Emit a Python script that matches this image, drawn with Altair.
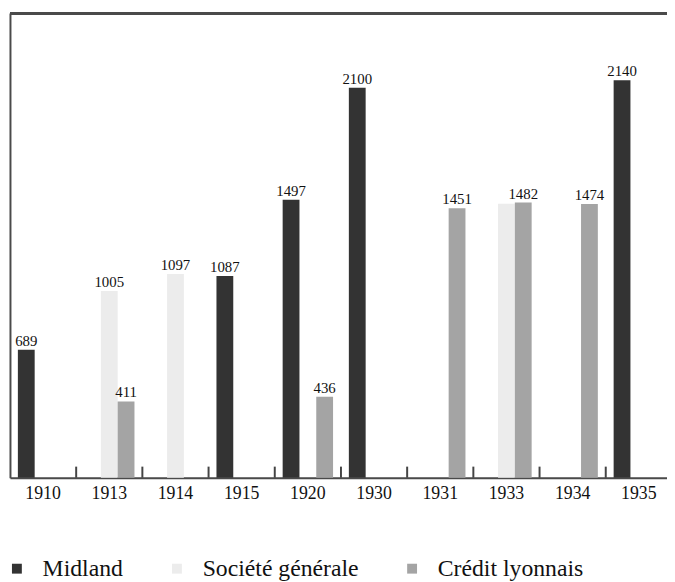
import altair as alt
import pandas as pd

years = ["1910", "1913", "1914", "1915", "1920", "1930", "1931", "1933", "1934", "1935"]
series_names = ["Midland", "Société générale", "Crédit lyonnais"]
midland = [689, 0, 0, 1087, 1497, 2100, 0, 0, 0, 2140]
societe = [0, 1005, 1097, 0, 0, 0, 0, 1475, 0, 0]
credit = [0, 411, 0, 0, 436, 0, 1451, 1482, 1474, 0]
# printed value labels (None = no label printed)
midland_lbl = [689, None, None, 1087, 1497, 2100, None, None, None, 2140]
societe_lbl = [None, 1005, 1097, None, None, None, None, None, None, None]
credit_lbl = [None, 411, None, None, 436, None, 1451, 1482, 1474, None]
colors = ["#333333", "#ececec", "#a4a4a4"]
y_max = 2500
marker_height = 60

rows = []
for s, vals, lbls in zip(series_names, [midland, societe, credit],
                         [midland_lbl, societe_lbl, credit_lbl]):
    for y, v, l in zip(years, vals, lbls):
        rows.append({"year": y, "series": s, "value": v,
                     "label": "" if l is None else str(l)})
df = pd.DataFrame(rows)
bars_df = df[df["value"] > 0]
labels_df = df[df["label"] != ""]
marks_df = pd.DataFrame({"year": years})

FONT = "Liberation Serif"

x_enc = alt.X("year:N", sort=years, title=None,
              scale=alt.Scale(range=[0, 670], paddingInner=0, paddingOuter=0),
              axis=alt.Axis(labelAngle=0, ticks=False, tickSize=0, labelPadding=7,
                            labelFont=FONT, labelFontSize=18, labelColor="#111",
                            domainColor="#4a4a4a", domainWidth=2, grid=False))
xo_enc = alt.XOffset("series:N", sort=series_names,
                     scale=alt.Scale(paddingOuter=0.47, paddingInner=0))
y_scale = alt.Scale(domain=[0, y_max], nice=False)

bars = alt.Chart(bars_df).mark_bar().encode(
    x=x_enc,
    xOffset=xo_enc,
    y=alt.Y("value:Q", scale=y_scale, title=None,
            axis=alt.Axis(labels=False, ticks=False, grid=False,
                          domainColor="#4a4a4a", domainWidth=2)),
    color=alt.Color("series:N", sort=series_names,
                    scale=alt.Scale(domain=series_names, range=colors),
                    legend=alt.Legend(title=None, orient="none", direction="horizontal",
                                      legendX=-5, legendY=550, padding=0,
                                      symbolType="square", symbolSize=100,
                                      symbolStrokeWidth=0, labelOffset=14,
                                      columnPadding=42, labelFont=FONT,
                                      labelFontSize=24, labelColor="#111",
                                      labelLimit=400)),
)

texts = alt.Chart(labels_df).mark_text(
    baseline="alphabetic", dy=-4, font=FONT, fontSize=15, color="#111"
).encode(
    x=alt.X("year:N", sort=years),
    xOffset=alt.XOffset("series:N", sort=series_names),
    y=alt.Y("value:Q", scale=y_scale),
    text="label:N",
)

markers = alt.Chart(marks_df).mark_rule(color="#444", strokeWidth=2).encode(
    x=alt.X("year:N", sort=years, bandPosition=1),
    y=alt.datum(0),
    y2=alt.datum(marker_height),
)

top_line = alt.Chart(marks_df).mark_rule(color="#4a4a4a", strokeWidth=2).encode(
    y=alt.datum(y_max),
)

chart = alt.layer(bars, texts, markers, top_line).properties(
    width=665,
    height=470,
    padding={"left": 2, "top": 2, "right": 0, "bottom": 102},
    autosize=alt.AutoSizeParams(type="none"),
).configure_view(stroke=None).configure(background="white")

chart.save("out.html", embed_options={"renderer": "svg", "actions": False})
